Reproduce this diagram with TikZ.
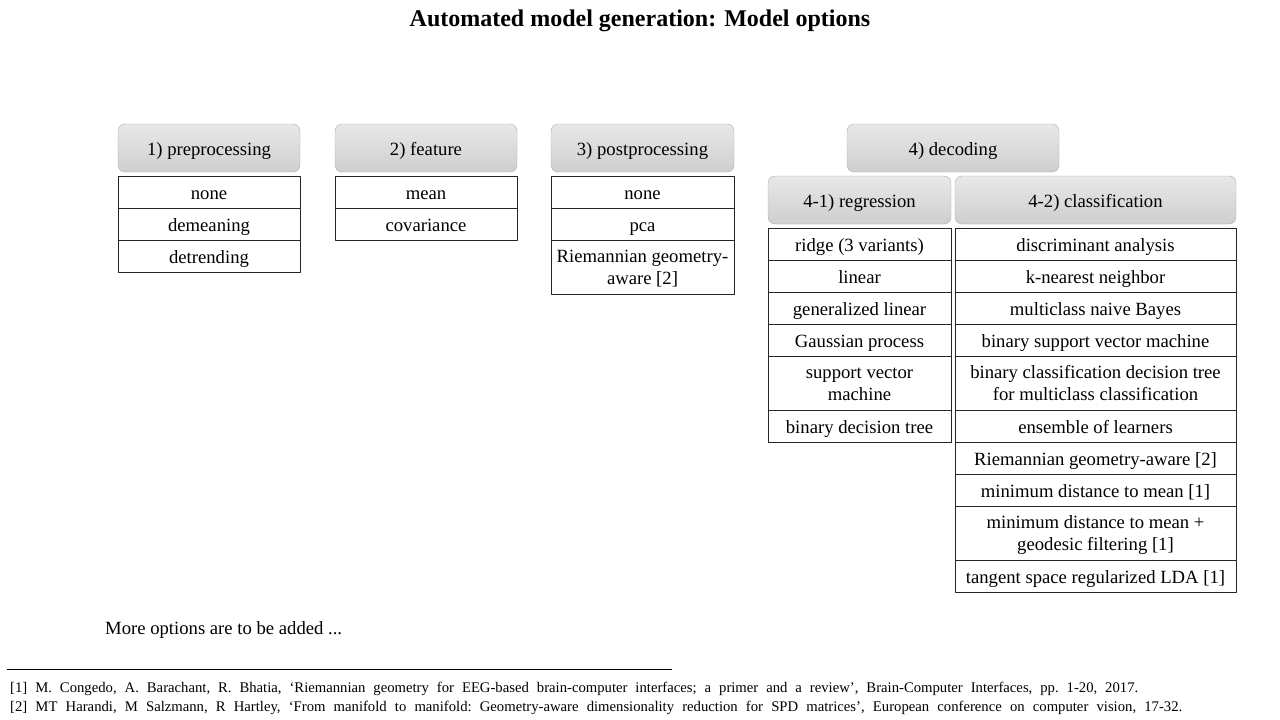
\documentclass[tikz,border=0pt]{standalone}
\usepackage{fontspec}
\setmainfont{Liberation Serif}
\usetikzlibrary{positioning}
\newcommand\cellstrut{\rule[-3.6pt]{0pt}{22pt}}
\tikzset{
  hdr/.style={draw=gray!65, rounded corners=7pt, top color=gray!18, bottom color=gray!38,
    minimum height=48pt, inner sep=0pt, outer sep=0pt, execute at begin node=\cellstrut},
  cell/.style={draw=black!85, line width=0.8pt, minimum height=32pt, inner sep=0pt, outer sep=0pt, align=center,
    execute at begin node=\cellstrut, execute at end node=\cellstrut},
  tall/.style={minimum height=54pt, text height=44pt, text depth=10pt},
  ref/.style={anchor=west, inner sep=0pt, font=\fontsize{14.7}{16}\selectfont\frenchspacing}
}
\begin{document}
\begin{tikzpicture}[x=1pt,y=-1pt,line join=round,font=\fontsize{18.67}{22}\selectfont]
  \useasboundingbox (0,0) rectangle (1280,720);
  \node[font=\fontsize{24}{28}\selectfont\bfseries] (title) at (640,21) {Automated model generation: Model options};
  % 1) preprocessing
  \node[hdr,minimum width=182pt] (pre) at (209,148) {1) preprocessing};
  \node[cell,minimum width=182pt,below=4pt of pre] (pre1) {none};
  \node[cell,minimum width=182pt,below=0pt of pre1] (pre2) {demeaning};
  \node[cell,minimum width=182pt,below=0pt of pre2] (pre3) {detrending};
  % 2) feature
  \node[hdr,minimum width=182pt] (feat) at (426,148) {2) feature};
  \node[cell,minimum width=182pt,below=4pt of feat] (feat1) {mean};
  \node[cell,minimum width=182pt,below=0pt of feat1] (feat2) {covariance};
  % 3) postprocessing
  \node[hdr,minimum width=183pt] (post) at (642.5,148) {3) postprocessing};
  \node[cell,minimum width=183pt,below=4pt of post] (post1) {none};
  \node[cell,minimum width=183pt,below=0pt of post1] (post2) {pca};
  \node[cell,tall,minimum width=183pt,below=0pt of post2] (post3) {Riemannian geometry-\\aware [2]};
  % 4) decoding
  \node[hdr,minimum width=212pt] (dec) at (953,148) {4) decoding};
  \node[hdr,minimum width=183pt] (reg) at (859.5,200) {4-1) regression};
  \node[hdr,minimum width=281pt] (cls) at (1095.5,200) {4-2) classification};
  % regression
  \node[cell,minimum width=183pt,below=4pt of reg] (reg1) {ridge (3 variants)};
  \node[cell,minimum width=183pt,below=0pt of reg1] (reg2) {linear};
  \node[cell,minimum width=183pt,below=0pt of reg2] (reg3) {generalized linear};
  \node[cell,minimum width=183pt,below=0pt of reg3] (reg4) {Gaussian process};
  \node[cell,tall,minimum width=183pt,below=0pt of reg4] (reg5) {support vector\\machine};
  \node[cell,minimum width=183pt,below=0pt of reg5] (reg6) {binary decision tree};
  % classification
  \node[cell,minimum width=281pt,below=4pt of cls] (cls1) {discriminant analysis};
  \node[cell,minimum width=281pt,below=0pt of cls1] (cls2) {k-nearest neighbor};
  \node[cell,minimum width=281pt,below=0pt of cls2] (cls3) {multiclass naive Bayes};
  \node[cell,minimum width=281pt,below=0pt of cls3] (cls4) {binary support vector machine};
  \node[cell,tall,minimum width=281pt,below=0pt of cls4] (cls5) {binary classification decision tree\\for multiclass classification};
  \node[cell,minimum width=281pt,below=0pt of cls5] (cls6) {ensemble of learners};
  \node[cell,minimum width=281pt,below=0pt of cls6] (cls7) {Riemannian geometry-aware [2]};
  \node[cell,minimum width=281pt,below=0pt of cls7] (cls8) {minimum distance to mean [1]};
  \node[cell,tall,minimum width=281pt,below=0pt of cls8] (cls9) {minimum distance to mean +\\geodesic filtering [1]};
  \node[cell,minimum width=281pt,below=0pt of cls9] (cls10) {tangent space regularized LDA [1]};
  % notes
  \node[anchor=west,inner sep=0pt] (more) at (105,630) {More options are to be added ...};
  \coordinate (rl) at (7,669);
  \coordinate (rr) at (672,669);
  \draw[line width=0.8pt] (rl) -- (rr);
  \node[ref] (ref1) at (10,689) {\makebox[1128pt][s]{[1] M. Congedo, A. Barachant, R. Bhatia, `Riemannian geometry for EEG-based brain-computer interfaces; a primer and a review', Brain-Computer Interfaces, pp. 1-20, 2017.}};
  \node[ref] (ref2) at (10,708) {\makebox[1172pt][s]{[2] MT Harandi, M Salzmann, R Hartley, `From manifold to manifold: Geometry-aware dimensionality reduction for SPD matrices', European conference on computer vision, 17-32.}};
\end{tikzpicture}
\end{document}
